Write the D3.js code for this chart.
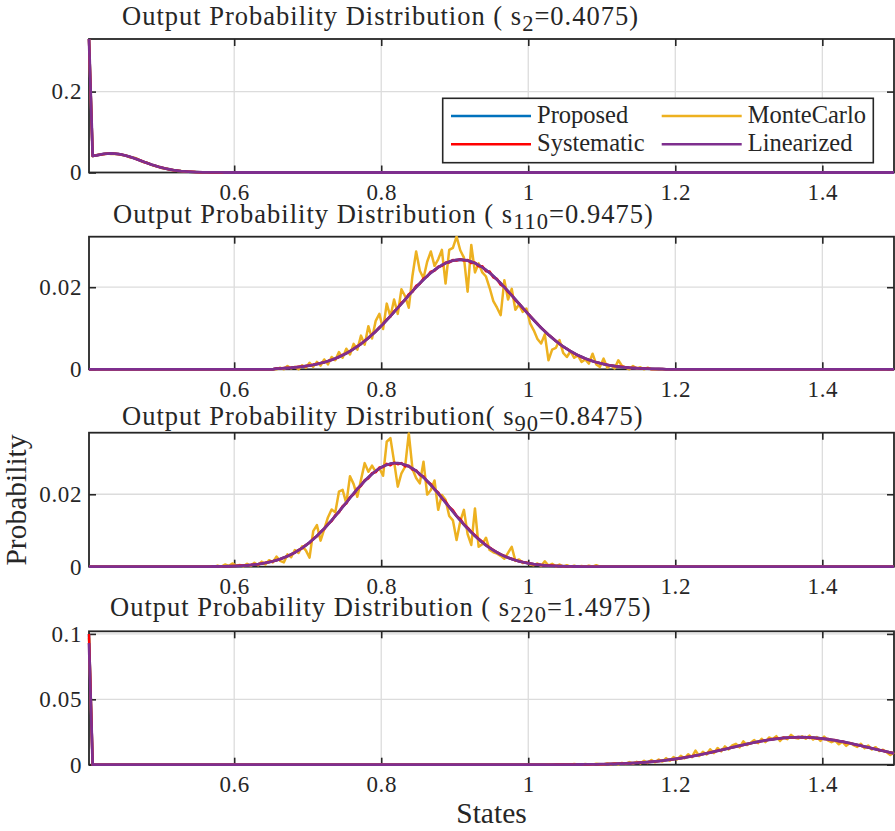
<!DOCTYPE html>
<html>
<head>
<meta charset="utf-8">
<script src="https://cdn.jsdelivr.net/npm/d3@7"></script>
<style>
  html, body { margin: 0; padding: 0; background: #ffffff; }
  svg { display: block; }
  svg text { font-family: "Liberation Serif", "Times New Roman", serif !important; fill: #262626; }
</style>
</head>
<body>
<svg id="chart" width="895" height="831"></svg>
<script>
// ---------------------------------------------------------------------------
// State grid: s_1 = 0.4025 ... s_220 = 1.4975, step 0.005
// ---------------------------------------------------------------------------
const stateFirst = 0.4025;
const stateStep = 0.005;
const stateCount = 220;

const xTickValues = [0.6, 0.8, 1, 1.2, 1.4];
const seriesNames = ["Proposed", "MonteCarlo", "Systematic", "Linearized"];
const seriesColors = ["#0072BD", "#EDB120", "#FF0000", "#7E2F8E"];

// Per-panel state shown in each title
const panelStateIndex = ["2", "110", "90", "220"];
const panelStateValue = ["0.4075", "0.9475", "0.8475", "1.4975"];
const titleLead = "Output Probability Distribution";
const titleJoin = [" ( ", " ( ", "( ", " ( "];

const yTickValues = [[0, 0.2], [0, 0.02], [0, 0.02], [0, 0.05, 0.1]];
const yMax = [0.33, 0.0323, 0.037, 0.102];

// Series are stored as runs: [first state, values...]; states outside a run are 0.

// ---- Panel 1 : s_2 = 0.4075 ----
const linearized1 = [[0.4025, [0.33, 0.041, 0.0422, 0.0443, 0.0458, 0.0467, 0.0470, 0.0466, 0.0455, 0.0439,
  0.0417, 0.0391, 0.0361, 0.0329, 0.0295, 0.0261, 0.0228, 0.0196, 0.0167, 0.0139, 0.0115, 0.0093, 0.0075,
  0.0059, 0.0046, 0.0035, 0.0027, 0.0020, 0.0015, 0.0011, 0.0008, 0.0005, 0.0004, 0.0003, 0.0002, 0.0001, 0.0001]]];
const systematic1 = [[0.4025, [0.33, 0.0410, 0.0424, 0.0441, 0.0459, 0.0466, 0.0471, 0.0465, 0.0456, 0.0438,
  0.0418, 0.0390, 0.0362, 0.0328, 0.0296, 0.0260, 0.0229, 0.0195, 0.0168, 0.0138, 0.0116, 0.0092, 0.0076,
  0.0058, 0.0047, 0.0034, 0.0028, 0.0019, 0.0016, 0.0010, 0.0009, 0.0005, 0.0004, 0.0003, 0.0002, 0.0001, 0.0001]]];
const monteCarlo1 = [[0.4025, [0.330, 0.0405, 0.0430, 0.0448, 0.0450, 0.0472, 0.0458, 0.0463, 0.0448, 0.0432,
  0.0425, 0.0378, 0.0372, 0.0345, 0.0290, 0.0252, 0.0235, 0.0188, 0.0160, 0.0148, 0.0105, 0.0098, 0.0070,
  0.0062, 0.0040, 0.0038, 0.0022, 0.0024, 0.0012, 0.0014, 0.0006, 0.0009, 0.0002, 0.0006, 0.0001, 0.0003, 0]]];
// The proposed method coincides with the linearized one at plotting precision
const proposed1 = linearized1;

// ---- Panel 2 : s_110 = 0.9475 ----
const linearized2 = [[0.6575, [0.00018, 0.00022, 0.00026, 0.00032, 0.00038, 0.00046, 0.00055, 0.00066, 0.00078, 0.00092,
  0.00108, 0.00127, 0.00148, 0.00172, 0.00199, 0.00229, 0.00264, 0.00302, 0.00342, 0.00390,
  0.00441, 0.00497, 0.00555, 0.00619, 0.00689, 0.00764, 0.00841, 0.00924, 0.01012, 0.01103,
  0.01199, 0.01295, 0.01396, 0.01495, 0.01597, 0.01701, 0.01802, 0.01904, 0.02000, 0.02096,
  0.02184, 0.02270, 0.02350, 0.02419, 0.02483, 0.02539, 0.02585, 0.02622, 0.02649, 0.02665,
  0.0267,
  0.02665, 0.02649, 0.02622, 0.02585, 0.02539, 0.02483, 0.02419, 0.02350, 0.02270, 0.02184,
  0.02096, 0.02000, 0.01904, 0.01802, 0.01701, 0.01597, 0.01495, 0.01396, 0.01295, 0.01199,
  0.01103, 0.01012, 0.00924, 0.00841, 0.00764, 0.00689, 0.00619, 0.00555, 0.00497, 0.00441,
  0.00390, 0.00342, 0.00302, 0.00264, 0.00229, 0.00199, 0.00172, 0.00148, 0.00127, 0.00108,
  0.00092, 0.00078, 0.00066, 0.00055, 0.00046, 0.00038, 0.00032, 0.00026, 0.00022, 0.00018,
  0.00015, 0.00012, 0.00009, 0.00007, 0.00006]]];
const systematic2 = [[0.6575, [0.0002, 0.0002, 0.0003, 0.0003, 0.0004, 0.0005, 0.0006, 0.0007, 0.0008, 0.0009,
  0.0011, 0.0013, 0.0015, 0.0017, 0.0020, 0.0023, 0.0026, 0.0030, 0.0035, 0.0039,
  0.0044, 0.0050, 0.0056, 0.0062, 0.0069, 0.0076, 0.0085, 0.0092, 0.0102, 0.0110,
  0.0121, 0.0129, 0.0141, 0.0149, 0.0162, 0.0169, 0.0183, 0.0189, 0.0203, 0.0208,
  0.0221, 0.0226, 0.0238, 0.0240, 0.0250, 0.0252, 0.0260, 0.0260, 0.0266, 0.0265,
  0.0268,
  0.0265, 0.0266, 0.0259, 0.0260, 0.0251, 0.0251, 0.0239, 0.0238, 0.0224, 0.0220,
  0.0206, 0.0201, 0.0188, 0.0181, 0.0168, 0.0160, 0.0149, 0.0140, 0.0130, 0.0120,
  0.0111, 0.0101, 0.0093, 0.0084, 0.0077, 0.0069, 0.0062, 0.0055, 0.0050, 0.0044,
  0.0039, 0.0034, 0.0030, 0.0026, 0.0023, 0.0020, 0.0017, 0.0015, 0.0013, 0.0011,
  0.0009, 0.0008, 0.0007, 0.0006, 0.0005, 0.0004, 0.0003, 0.0003, 0.0002, 0.0002,
  0.0002, 0.0001, 0.0001, 0.0001, 0.0001]]];
const monteCarlo2 = [[0.6575, [0, 0.0004, 0, 0.0008, 0.0002, 0.0006, 0, 0.0010, 0.0004, 0.0016,
  0.0006, 0.0018, 0.0009, 0.0024, 0.0012, 0.0030, 0.0022, 0.0042, 0.0028, 0.0050,
  0.0036, 0.0062, 0.0048, 0.0082, 0.0060, 0.0105, 0.0075, 0.0118, 0.0135, 0.0098,
  0.0160, 0.0128, 0.0170, 0.0135, 0.0195, 0.0178, 0.0150, 0.0228, 0.0287, 0.0240,
  0.0222, 0.0262, 0.0287, 0.0252, 0.0268, 0.0291, 0.0209, 0.0291, 0.0296, 0.0323,
  0.0290, 0.0272, 0.0189, 0.0303, 0.0236, 0.0258, 0.0236, 0.0226, 0.0198, 0.0166,
  0.0150, 0.0132, 0.0217, 0.0170, 0.0196, 0.0145, 0.0158, 0.0140, 0.0148, 0.0112,
  0.0095, 0.0074, 0.0063, 0.0085, 0.0022, 0.0048, 0.0052, 0.0071, 0.0040, 0.0030,
  0.0044, 0.0028, 0.0034, 0.0018, 0.0024, 0.0014, 0.0038, 0.0012, 0.0006, 0.0026,
  0.0004, 0.0010, 0.0002, 0.0022, 0.0008, 0.0004, 0, 0.0008, 0.0002, 0.0005,
  0, 0.0004, 0]]];
const proposed2 = linearized2;

// ---- Panel 3 : s_90 = 0.8475 ----
const linearized3 = [[0.5675, [0.00003, 0.00005, 0.00006, 0.00008, 0.00010, 0.00013, 0.00016, 0.00020, 0.00025, 0.00031,
  0.00039, 0.00047, 0.00058, 0.00071, 0.00087, 0.00105, 0.00126, 0.00150, 0.00179, 0.00211,
  0.00249, 0.00291, 0.00339, 0.00393, 0.00452, 0.00519, 0.00591, 0.00671, 0.00757, 0.00850,
  0.00949, 0.01054, 0.01164, 0.01280, 0.01399, 0.01522, 0.01647, 0.01772, 0.01898, 0.02021,
  0.02141, 0.02257, 0.02366, 0.02467, 0.02560, 0.02642, 0.02712, 0.02770, 0.02813, 0.02843, 0.02858,
  0.02858, 0.02843, 0.02813, 0.02770, 0.02712, 0.02642, 0.02560, 0.02467, 0.02366, 0.02257, 0.02141,
  0.02021, 0.01898, 0.01772, 0.01647, 0.01522, 0.01399, 0.01280, 0.01164, 0.01054, 0.00949,
  0.00850, 0.00757, 0.00671, 0.00591, 0.00519, 0.00452, 0.00393, 0.00339, 0.00291, 0.00249,
  0.00211, 0.00179, 0.00150, 0.00126, 0.00105, 0.00087, 0.00071, 0.00058, 0.00047, 0.00039,
  0.00031, 0.00025, 0.00020, 0.00016, 0.00013, 0.00010, 0.00008, 0.00006, 0.00005, 0.00003]]];
const systematic3 = [[0.5675, [0, 0.0001, 0.0001, 0.0001, 0.0001, 0.0001, 0.0002, 0.0002, 0.0003, 0.0003,
  0.0004, 0.0005, 0.0006, 0.0007, 0.0009, 0.0011, 0.0013, 0.0015, 0.0018, 0.0021,
  0.0025, 0.0029, 0.0034, 0.0039, 0.0046, 0.0051, 0.0060, 0.0066, 0.0077, 0.0084,
  0.0096, 0.0104, 0.0118, 0.0126, 0.0142, 0.0150, 0.0167, 0.0175, 0.0192, 0.0200,
  0.0216, 0.0223, 0.0239, 0.0244, 0.0258, 0.0261, 0.0274, 0.0275, 0.0284, 0.0280, 0.0287,
  0.0283, 0.0286, 0.0277, 0.0279, 0.0268, 0.0266, 0.0253, 0.0249, 0.0235, 0.0228, 0.0213,
  0.0205, 0.0189, 0.0180, 0.0165, 0.0156, 0.0140, 0.0132, 0.0117, 0.0108, 0.0096,
  0.0087, 0.0077, 0.0069, 0.0060, 0.0053, 0.0046, 0.0040, 0.0034, 0.0030, 0.0025,
  0.0022, 0.0018, 0.0015, 0.0013, 0.0011, 0.0009, 0.0007, 0.0006, 0.0005, 0.0004,
  0.0003, 0.0003, 0.0002, 0.0002, 0.0001, 0.0001, 0.0001, 0.0001, 0, 0]]];
const monteCarlo3 = [[0.5675, [0, 0, 0.0003, 0, 0.0006, 0.0002, 0.0009, 0.0003, 0.0005, 0.0001,
  0.0008, 0.0002, 0.0011, 0.0004, 0.0014, 0.0006, 0.0018, 0.0012, 0.0028, 0.0016,
  0.0012, 0.0034, 0.0026, 0.0046, 0.0038, 0.0056, 0.0045, 0.0025, 0.0098, 0.0115,
  0.0072, 0.0104, 0.0136, 0.0158, 0.0150, 0.0207, 0.0212, 0.0175, 0.0250, 0.0228,
  0.0193, 0.0240, 0.0286, 0.0262, 0.0279, 0.0262, 0.0272, 0.0251, 0.0345, 0.0355, 0.0290,
  0.0221, 0.0258, 0.0276, 0.0368, 0.0270, 0.0245, 0.0230, 0.0290, 0.0199, 0.0212, 0.0238,
  0.0157, 0.0198, 0.0185, 0.0140, 0.0128, 0.0074, 0.0125, 0.0157, 0.0090, 0.0060,
  0.0161, 0.0055, 0.0062, 0.0080, 0.0046, 0.0040, 0.0036, 0.0030, 0.0022, 0.0038,
  0.0055, 0.0016, 0.0020, 0.0010, 0.0012, 0.0006, 0.0004, 0.0009, 0.0002, 0.0015,
  0.0003, 0.0008, 0.0001, 0.0006, 0, 0.0004, 0, 0.0003, 0, 0.0002,
  0, 0.0003, 0, 0.0004, 0]]];
const proposed3 = linearized3;

// ---- Panel 4 : s_220 = 1.4975 ----
const linearized4 = [[0.4025, [0.093]], [1.0175, [0.00002, 0.00002, 0.00003, 0.00004, 0.00005, 0.00006, 0.00007, 0.00008, 0.00010, 0.00012,
  0.00015, 0.00017, 0.00020, 0.00024, 0.00028, 0.00032, 0.00037, 0.00043, 0.00050, 0.00058,
  0.00066, 0.00076, 0.00086, 0.00098, 0.00112, 0.00127, 0.00143, 0.00161, 0.00181, 0.00203,
  0.00227, 0.00253, 0.00281, 0.00312, 0.00345, 0.00380, 0.00418, 0.00458, 0.00501, 0.00547,
  0.00595, 0.00645, 0.00698, 0.00753, 0.00810, 0.00869, 0.00930, 0.00993, 0.01057, 0.01122,
  0.01188, 0.01254, 0.01320, 0.01386, 0.01452, 0.01516, 0.01579, 0.01640, 0.01699, 0.01755,
  0.01808, 0.01858, 0.01904, 0.01946, 0.01983, 0.02016, 0.02043, 0.02065, 0.02082, 0.02094, 0.02099,
  0.02099, 0.02094, 0.02082, 0.02065, 0.02043, 0.02016, 0.01983, 0.01946, 0.01904, 0.01858,
  0.01808, 0.01755, 0.01699, 0.01640, 0.01579, 0.01516, 0.01452, 0.01386, 0.01320, 0.01254,
  0.01188, 0.01122, 0.01057, 0.00993, 0.00930, 0.00869]]];
const systematic4 = [[0.4025, [0.100]], [1.0175, [0, 0, 0, 0, 0.0001, 0.0001, 0.0001, 0.0001, 0.0001, 0.0001,
  0.0002, 0.0002, 0.0002, 0.0002, 0.0003, 0.0003, 0.0004, 0.0004, 0.0005, 0.0006,
  0.0007, 0.0008, 0.0009, 0.0010, 0.0011, 0.0013, 0.0014, 0.0016, 0.0018, 0.0020,
  0.0023, 0.0025, 0.0028, 0.0031, 0.0035, 0.0038, 0.0042, 0.0046, 0.0050, 0.0055,
  0.0060, 0.0064, 0.0070, 0.0075, 0.0081, 0.0087, 0.0093, 0.0099, 0.0106, 0.0112,
  0.0119, 0.0125, 0.0133, 0.0138, 0.0146, 0.0151, 0.0159, 0.0163, 0.0171, 0.0174,
  0.0182, 0.0185, 0.0192, 0.0194, 0.0200, 0.0200, 0.0206, 0.0205, 0.0210, 0.0208, 0.0212,
  0.0208, 0.0211, 0.0205, 0.0207, 0.0200, 0.0203, 0.0196, 0.0197, 0.0189, 0.0188,
  0.0179, 0.0177, 0.0168, 0.0165, 0.0157, 0.0151, 0.0145, 0.0138, 0.0132, 0.0125,
  0.0119, 0.0112, 0.0106, 0.0099, 0.0093, 0.0087]]];
const monteCarlo4 = [[0.4025, [0.097]], [1.0175, [0, 0, 0.0003, 0, 0, 0.0004, 0, 0.0002, 0, 0.0005,
  0.0001, 0, 0.0006, 0.0002, 0, 0.0008, 0.0003, 0.0001, 0.0009, 0.0004,
  0.0012, 0.0002, 0.0014, 0.0006, 0.0020, 0.0008, 0.0022, 0.0010, 0.0030, 0.0014,
  0.0036, 0.0018, 0.0040, 0.0024, 0.0050, 0.0030, 0.0058, 0.0040, 0.0068, 0.0048,
  0.0080, 0.0058, 0.0108, 0.0066, 0.0098, 0.0078, 0.0118, 0.0088, 0.0128, 0.0102,
  0.0140, 0.0116, 0.0148, 0.0160, 0.0132, 0.0178, 0.0150, 0.0168, 0.0188, 0.0165,
  0.0198, 0.0172, 0.0208, 0.0196, 0.0218, 0.0182, 0.0210, 0.0195, 0.0228, 0.0206, 0.0200,
  0.0218, 0.0198, 0.0222, 0.0192, 0.0212, 0.0182, 0.0215, 0.0186, 0.0172, 0.0184,
  0.0156, 0.0175, 0.0144, 0.0168, 0.0150, 0.0136, 0.0160, 0.0126, 0.0146, 0.0116,
  0.0134, 0.0104, 0.0114, 0.0096, 0.0074, 0.0094]]];
const proposed4 = [[0.4025, [0.100]], linearized4[1]];

const panelSeries = [
  [proposed1, monteCarlo1, systematic1, linearized1],
  [proposed2, monteCarlo2, systematic2, linearized2],
  [proposed3, monteCarlo3, systematic3, linearized3],
  [proposed4, monteCarlo4, systematic4, linearized4]
];

// ---------------------------------------------------------------------------
// Helpers
// ---------------------------------------------------------------------------
const states = d3.range(stateCount).map(i => +(stateFirst + i * stateStep).toFixed(4));

function expand(runs) {
  const out = new Array(stateCount).fill(0);
  runs.forEach(([s0, vals]) => {
    const i0 = Math.round((s0 - stateFirst) / stateStep);
    vals.forEach((v, j) => { if (i0 + j < stateCount) out[i0 + j] = v; });
  });
  return out;
}

// ---------------------------------------------------------------------------
// Layout
// ---------------------------------------------------------------------------
const plotLeft = 89, plotRight = 894;
const panelBox = [
  { top: 39,    bottom: 172.5, titleX: 122, titleY: 25 },
  { top: 236.7, bottom: 369.3, titleX: 113, titleY: 223 },
  { top: 432.7, bottom: 566.7, titleX: 122, titleY: 425 },
  { top: 631.3, bottom: 764.7, titleX: 110, titleY: 616 }
];
const axisColor = "#262626";
const gridColor = "#dcdcdc";
const serif = '"Liberation Serif", "Times New Roman", serif';
const tickFont = 23, titleFont = 26.5, legendFont = 24.5, labelFont = 29.5;

const svg = d3.select("#chart").style("font-family", serif);
const x = d3.scaleLinear().domain([stateFirst, states[stateCount - 1]]).range([plotLeft, plotRight]);
const fmt = d => String(d);

panelBox.forEach((box, p) => {
  const y = d3.scaleLinear().domain([0, yMax[p]]).range([box.bottom, box.top]);
  const g = svg.append("g");
  const h = box.bottom - box.top;
  const w = plotRight - plotLeft;

  // grid
  g.append("g").selectAll("line").data(xTickValues).join("line")
    .attr("x1", d => x(d)).attr("x2", d => x(d))
    .attr("y1", box.top).attr("y2", box.bottom)
    .attr("stroke", gridColor).attr("stroke-width", 1.3);
  g.append("g").selectAll("line").data(yTickValues[p].filter(v => v > 0)).join("line")
    .attr("x1", plotLeft).attr("x2", plotRight)
    .attr("y1", d => y(d)).attr("y2", d => y(d))
    .attr("stroke", gridColor).attr("stroke-width", 1.3);

  // axes (ticks point inwards)
  const bottomAxis = d3.axisBottom(x).tickValues(xTickValues).tickFormat(fmt)
    .tickSizeInner(-7).tickSizeOuter(0).tickPadding(11);
  const topAxis = d3.axisTop(x).tickValues(xTickValues).tickFormat("")
    .tickSizeInner(-7).tickSizeOuter(0);
  const leftAxis = d3.axisLeft(y).tickValues(yTickValues[p]).tickFormat(fmt)
    .tickSizeInner(-7).tickSizeOuter(0).tickPadding(7);
  const rightAxis = d3.axisRight(y).tickValues(yTickValues[p]).tickFormat("")
    .tickSizeInner(-7).tickSizeOuter(0);

  const axes = [
    [bottomAxis, `translate(0,${box.bottom})`],
    [topAxis, `translate(0,${box.top})`],
    [leftAxis, `translate(${plotLeft},0)`],
    [rightAxis, `translate(${plotRight},0)`]
  ];
  axes.forEach(([ax, tr]) => {
    const a = g.append("g").attr("transform", tr).call(ax)
      .attr("font-family", null).attr("font-size", null);
    a.select(".domain").remove();
    a.selectAll(".tick line").attr("stroke", axisColor).attr("stroke-width", 1.6);
    a.selectAll(".tick text")
      .style("font-family", serif)
      .style("font-size", tickFont + "px")
      .style("letter-spacing", "0.6px")
      .attr("fill", axisColor);
  });

  g.append("rect")
    .attr("x", plotLeft).attr("y", box.top).attr("width", w).attr("height", h)
    .attr("fill", "none").attr("stroke", axisColor).attr("stroke-width", 1.8);

  // data
  const clipId = `clip${p}`;
  svg.append("clipPath").attr("id", clipId).append("rect")
    .attr("x", plotLeft - 2).attr("y", box.top - 1).attr("width", w + 4).attr("height", h + 3);

  const line = d3.line().x((d, i) => x(states[i])).y(d => y(d));
  const lines = g.append("g").attr("clip-path", `url(#${clipId})`);
  panelSeries[p].forEach((runs, k) => {
    lines.append("path")
      .datum(expand(runs))
      .attr("d", line)
      .attr("fill", "none")
      .attr("stroke", seriesColors[k])
      .attr("stroke-width", k === 3 ? 2.8 : 2.5)
      .attr("stroke-linejoin", "round");
  });

  // title
  const t = svg.append("text")
    .attr("x", box.titleX).attr("y", box.titleY)
    .style("font-size", titleFont + "px")
    .style("letter-spacing", "1px");
  t.append("tspan").text(titleLead + titleJoin[p] + "s");
  t.append("tspan").attr("dy", 5.5).style("font-size", (titleFont * 0.85) + "px").text(panelStateIndex[p]);
  t.append("tspan").attr("dy", -5.5).text("=" + panelStateValue[p] + ")");
});

// legend (inside first panel)
const legend = svg.append("g");
legend.append("rect")
  .attr("x", 442.7).attr("y", 98.3).attr("width", 430.6).attr("height", 64.4)
  .attr("fill", "#ffffff").attr("stroke", axisColor).attr("stroke-width", 1.6);
const legendCols = [451, 661.7];
const legendRows = [116, 144.3];
seriesNames.forEach((name, k) => {
  const col = k % 2, row = Math.floor(k / 2);
  const lx = legendCols[col], ly = legendRows[row];
  legend.append("line")
    .attr("x1", lx).attr("x2", lx + 80).attr("y1", ly).attr("y2", ly)
    .attr("stroke", seriesColors[k]).attr("stroke-width", 2.5);
  legend.append("text")
    .attr("x", lx + 86).attr("y", ly + 6.5)
    .style("font-size", legendFont + "px")
    .text(name);
});

// axis labels
svg.append("text")
  .attr("transform", "translate(26,500) rotate(-90)")
  .attr("text-anchor", "middle")
  .style("font-size", labelFont + "px")
  .text("Probability");
svg.append("text")
  .attr("x", 491.5).attr("y", 823)
  .attr("text-anchor", "middle")
  .style("font-size", labelFont + "px")
  .text("States");
</script>
</body>
</html>
